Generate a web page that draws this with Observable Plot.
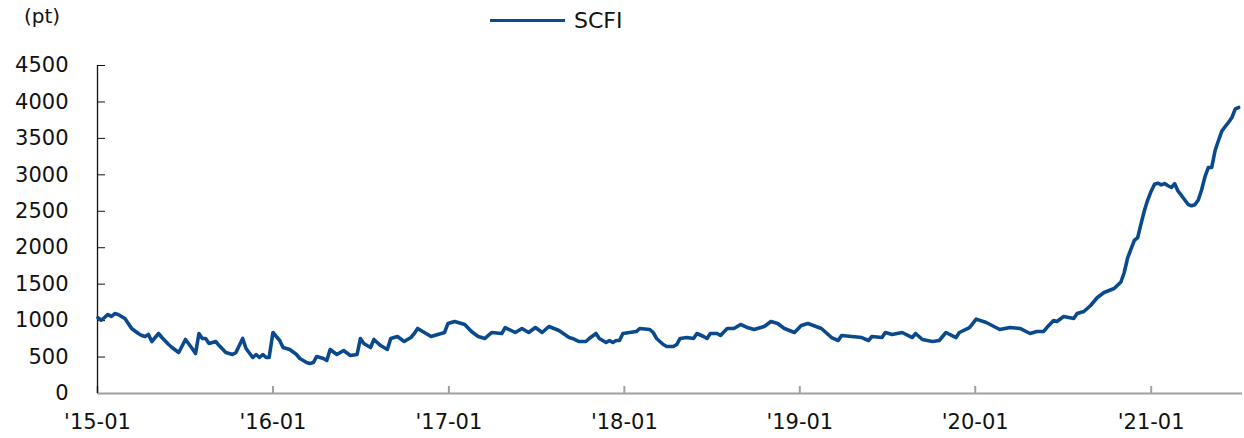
<!DOCTYPE html>
<html>
<head>
<meta charset="utf-8">
<script src="https://cdn.jsdelivr.net/npm/d3@7"></script>
<script src="https://cdn.jsdelivr.net/npm/@observablehq/plot@0.6"></script>
<style>
  html, body { margin: 0; padding: 0; background: #fff; }
  #wrap { position: relative; width: 1244px; height: 438px; font-family: "DejaVu Sans", sans-serif; color: #111; }
  #unit { position: absolute; left: 24px; top: 4px; font-size: 20px; }
  #legend { position: absolute; left: 490px; top: 8px; display: flex; align-items: center; font-size: 22px; }
  #legend .sw { width: 75px; height: 3px; background: #0a4a8c; margin-right: 9px; }
  svg { position: absolute; left: 0; top: 0; }
</style>
</head>
<body>
<div id="wrap">
  <div id="unit">(pt)</div>
  <div id="legend"><span class="sw"></span><span>SCFI</span></div>
</div>
<script>
const seriesName = "SCFI";
const dates = [
  "2015-01-02","2015-01-09","2015-01-23","2015-01-30","2015-02-06","2015-02-13","2015-02-27","2015-03-13","2015-03-27","2015-04-03",
  "2015-04-10","2015-04-17","2015-04-24","2015-05-08","2015-05-15","2015-05-29","2015-06-05","2015-06-19","2015-07-03","2015-07-17",
  "2015-07-24","2015-07-31","2015-08-07","2015-08-14","2015-08-21","2015-09-04","2015-09-11","2015-09-25","2015-10-09","2015-10-16",
  "2015-10-30","2015-11-06","2015-11-20","2015-11-27","2015-12-04","2015-12-11","2015-12-18","2015-12-24",
  "2016-01-01","2016-01-15","2016-01-22","2016-02-05","2016-02-19","2016-02-26","2016-03-11","2016-03-18","2016-03-25","2016-04-01",
  "2016-04-15","2016-04-22","2016-04-29","2016-05-13","2016-05-27","2016-06-10","2016-06-24","2016-07-01","2016-07-08","2016-07-22",
  "2016-07-29","2016-08-12","2016-08-26","2016-09-02","2016-09-16","2016-09-30","2016-10-14","2016-10-21","2016-10-28","2016-11-11",
  "2016-11-25","2016-12-09","2016-12-23","2016-12-30",
  "2017-01-13","2017-02-03","2017-02-17","2017-03-03","2017-03-17","2017-03-31","2017-04-21","2017-04-28","2017-05-19","2017-06-02",
  "2017-06-16","2017-06-30","2017-07-14","2017-07-28","2017-08-18","2017-09-08","2017-09-15","2017-09-29","2017-10-13","2017-10-20",
  "2017-11-03","2017-11-10","2017-11-24","2017-12-01","2017-12-08","2017-12-15","2017-12-22","2017-12-29",
  "2018-01-12","2018-01-26","2018-02-02","2018-02-23","2018-03-02","2018-03-09","2018-03-23","2018-03-30","2018-04-13","2018-04-20",
  "2018-04-27","2018-05-11","2018-05-25","2018-06-01","2018-06-15","2018-06-22","2018-06-29","2018-07-13","2018-07-20","2018-08-03",
  "2018-08-17","2018-08-31","2018-09-14","2018-09-28","2018-10-19","2018-11-02","2018-11-16","2018-11-30","2018-12-21",
  "2019-01-04","2019-01-18","2019-02-15","2019-03-08","2019-03-22","2019-03-29","2019-04-19","2019-05-10","2019-05-24","2019-05-31",
  "2019-06-21","2019-06-28","2019-07-12","2019-08-02","2019-08-23","2019-08-30","2019-09-13","2019-10-04","2019-10-18","2019-11-01",
  "2019-11-22","2019-11-29","2019-12-20",
  "2020-01-03","2020-01-24","2020-02-21","2020-03-13","2020-04-03","2020-04-24","2020-05-08","2020-05-22","2020-05-29","2020-06-12",
  "2020-06-19","2020-07-03","2020-07-24","2020-07-31","2020-08-14","2020-08-28","2020-09-11","2020-09-25","2020-10-16","2020-10-30",
  "2020-11-06","2020-11-13","2020-11-20","2020-11-27","2020-12-04","2020-12-11","2020-12-18","2020-12-24","2020-12-31",
  "2021-01-08","2021-01-15","2021-01-22","2021-01-29","2021-02-05","2021-02-12","2021-02-19","2021-02-26","2021-03-05","2021-03-12",
  "2021-03-19","2021-03-26","2021-04-02","2021-04-09","2021-04-16","2021-04-23","2021-04-30","2021-05-07","2021-05-14","2021-05-21",
  "2021-05-28","2021-06-04","2021-06-11","2021-06-18","2021-06-25","2021-07-02"
];
const values = [
  1040,1005,1084,1056,1097,1084,1029,892,823,796,
  782,810,713,823,768,672,631,562,741,617,
  549,823,755,755,686,713,658,562,535,562,
  755,617,494,535,494,535,494,494,
  837,727,631,604,535,480,425,412,425,508,
  480,453,604,535,590,521,535,755,686,631,
  741,658,604,755,782,713,768,823,892,837,
  782,810,837,960,
  988,947,850,782,755,837,823,905,837,892,
  837,905,837,919,864,768,755,713,713,755,
  823,755,700,727,700,727,727,823,
  837,850,892,878,837,755,672,645,645,672,
  755,768,755,823,782,755,823,823,796,892,
  892,947,905,878,919,988,960,892,837,
  933,960,892,768,727,796,782,768,727,782,
  768,837,810,837,768,823,741,713,727,837,
  768,837,905,
  1020,974,878,905,892,823,850,850,905,1002,
  988,1056,1029,1097,1125,1207,1317,1386,1440,1530,
  1660,1860,1980,2100,2140,2330,2510,2640,2760,
  2870,2885,2862,2880,2850,2826,2878,2775,2717,2655,
  2593,2575,2590,2654,2795,2975,3101,3101,3334,3471,
  3600,3663,3720,3787,3905,3924
];
const yTicks = [0, 500, 1000, 1500, 2000, 2500, 3000, 3500, 4000, 4500];
const xTickDates = ["2015-01-01","2016-01-01","2017-01-01","2018-01-01","2019-01-01","2020-01-01","2021-01-01"];
const xDomain = ["2015-01-01", "2021-07-10"];

const parse = d3.utcParse("%Y-%m-%d");
const data = dates.map((d, i) => ({date: parse(d), value: values[i], series: seriesName}));
const xt = xTickDates.map(parse);
const lineColor = "#0a4a8c";
const grey = "#a0a0a0";

const chart = Plot.plot({
  width: 1244,
  height: 438,
  marginLeft: 97,
  marginRight: 2,
  marginTop: 65,
  marginBottom: 45,
  style: {fontFamily: "DejaVu Sans, sans-serif", fontSize: "21px", color: "#111", background: "transparent"},
  x: {type: "utc", domain: xDomain.map(parse)},
  y: {domain: [0, 4500]},
  marks: [
    Plot.axisY({ticks: yTicks, tickSize: 0, tickPadding: 29, tickFormat: d => String(d), label: null, fontSize: 21}),
    Plot.axisY({ticks: yTicks, tickSize: 8, dx: 8, text: null, label: null, stroke: "#111"}),
    Plot.axisX({ticks: xt, tickSize: 0, tickPadding: 21, tickFormat: d => "'" + d3.utcFormat("%y-%m")(d), label: null, fontSize: 21}),
    Plot.axisX({ticks: xt, tickSize: 7, dy: -7, text: null, label: null, stroke: grey, strokeWidth: 2}),
    Plot.ruleY([0], {stroke: grey, strokeWidth: 2}),
    Plot.ruleX([parse(xDomain[0])], {y1: 0, y2: 4500, stroke: "#111", strokeWidth: 1.3}),
    Plot.line(data, {x: "date", y: "value", stroke: lineColor, strokeWidth: 3.6, strokeLinejoin: "round"})
  ]
});
document.getElementById("wrap").prepend(chart);
</script>
</body>
</html>
